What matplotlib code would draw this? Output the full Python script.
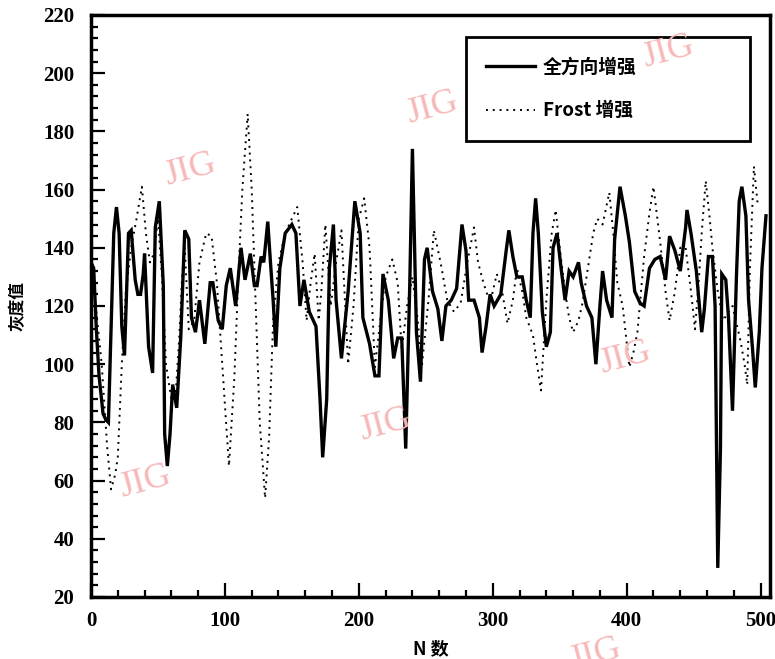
import numpy as np
import matplotlib
matplotlib.use("Agg")
import matplotlib.pyplot as plt
from matplotlib.ticker import MultipleLocator

## Values ##
omni_x = [0, 2, 4, 6, 9, 11, 13, 15, 17, 19, 21, 23, 25, 28, 30, 33, 35, 37, 39, 40,
          43, 46, 48, 51, 54, 55, 57, 59, 61, 64, 67, 70, 73, 75, 78, 81, 85, 89, 91, 95,
          98, 101, 104, 108, 112, 115, 119, 122, 124, 127, 129, 132, 134, 136, 138, 141, 145, 150, 153, 156,
          159, 163, 168, 171, 173, 176, 178, 181, 183, 187, 192, 197, 201, 203, 208, 212, 215, 218, 222, 226,
          229, 232, 235, 238, 240, 243, 246, 249, 251, 255, 259, 262, 265, 269, 273, 277, 280, 282, 286, 290,
          292, 295, 298, 301, 306, 310, 312, 315, 318, 322, 325, 328, 330, 332, 334, 337, 340, 343, 345, 348,
          351, 354, 357, 360, 364, 366, 370, 374, 377, 380, 382, 385, 389, 391, 395, 399, 402, 406, 410, 413,
          417, 421, 425, 429, 432, 436, 440, 444, 445, 448, 452, 456, 458, 461, 464, 466, 468, 470, 471, 474,
          476, 479, 482, 484, 486, 489, 491, 494, 496, 499, 501, 504]
omni_y = [135, 133, 112, 96, 83, 81, 80, 113, 145, 154, 145, 113, 103, 145, 146, 129, 124, 124, 131, 138,
          106, 97, 147, 156, 127, 76, 65, 76, 93, 85, 109, 146, 143, 116, 111, 122, 107, 128, 128, 115,
          112, 127, 133, 120, 140, 129, 138, 127, 127, 137, 135, 149, 135, 122, 106, 133, 145, 148, 145, 120,
          129, 118, 113, 88, 68, 88, 133, 148, 122, 102, 125, 156, 145, 116, 107, 96, 96, 131, 122, 102,
          109, 109, 71, 127, 174, 111, 94, 136, 140, 125, 119, 108, 120, 122, 126, 148, 139, 122, 122, 116,
          104, 113, 124, 120, 124, 139, 146, 137, 130, 130, 122, 116, 145, 157, 145, 118, 106, 111, 140, 145,
          133, 122, 132, 130, 135, 128, 120, 116, 100, 120, 132, 122, 116, 143, 161, 151, 142, 125, 121, 120,
          133, 136, 137, 129, 144, 139, 132, 147, 153, 145, 132, 111, 119, 137, 137, 120, 30, 71, 131, 129,
          116, 84, 131, 156, 161, 151, 122, 105, 92, 111, 133, 151]

frost_x = [0, 4, 8, 12, 15, 18, 20, 23, 26, 30, 34, 38, 41, 44, 47, 50, 53, 56, 60, 63,
           66, 68, 70, 73, 77, 81, 86, 90, 94, 98, 103, 107, 110, 113, 117, 120, 123, 126, 130, 133,
           136, 140, 145, 150, 154, 158, 161, 164, 167, 170, 172, 175, 179, 183, 187, 192, 196, 200, 204, 208,
           212, 216, 220, 225, 229, 232, 236, 240, 244, 247, 252, 256, 261, 266, 271, 276, 281, 286, 289, 293,
           298, 303, 307, 311, 315, 318, 322, 325, 330, 333, 336, 340, 344, 347, 350, 354, 357, 360, 364, 367,
           371, 375, 378, 382, 387, 390, 393, 397, 402, 405, 408, 413, 417, 420, 425, 429, 432, 436, 440, 444,
           448, 451, 454, 456, 459, 462, 464, 468, 472, 476, 479, 482, 485, 488, 490, 492, 495, 498]
frost_y = [132, 118, 100, 72, 57, 62, 68, 100, 125, 140, 150, 161, 145, 135, 138, 150, 130, 100, 88, 88,
           110, 130, 140, 112, 115, 135, 145, 144, 128, 100, 65, 95, 130, 160, 186, 160, 120, 80, 54, 75,
           115, 135, 145, 150, 154, 135, 115, 128, 138, 115, 125, 148, 120, 135, 146, 100, 120, 150, 157, 140,
           99, 115, 130, 136, 128, 105, 120, 130, 115, 99, 122, 146, 135, 122, 118, 121, 135, 147, 135, 128,
           121, 131, 125, 114, 122, 133, 125, 116, 110, 100, 91, 122, 145, 153, 140, 125, 116, 111, 115, 121,
           133, 145, 150, 148, 159, 145, 128, 120, 99, 104, 111, 137, 152, 161, 142, 125, 115, 125, 140, 140,
           125, 112, 130, 145, 163, 150, 140, 125, 115, 118, 120, 114, 108, 100, 93, 133, 168, 154]

labels = ["全方向增强", "Frost 增强"]
xlabel = "N 数"
ylabel = "灰度值"
watermark = "JIG"
# centres of the pink watermarks, in pixels from the top-left corner
wm_px = [(190, 170), (432, 108), (668, 52), (145, 482), (385, 425), (625, 358), (595, 655)]

W, H = 775, 659
cjk = ["Noto Sans CJK SC", "DejaVu Sans"]
fig = plt.figure(figsize=(W / 100, H / 100), dpi=100)
ax = fig.add_axes([91 / W, 62 / H, 679 / W, 582 / H])

ax.plot(omni_x, omni_y, color="black", lw=2.4, solid_joinstyle="miter", label=labels[0], zorder=3)
ax.plot(frost_x, frost_y, color="black", lw=1.4, linestyle=(0, (1, 2.5)), label=labels[1], zorder=2)

ax.set_xlim(0, 507)
ax.set_ylim(20, 220)
ax.xaxis.set_major_locator(MultipleLocator(100))
ax.xaxis.set_minor_locator(MultipleLocator(20))
ax.yaxis.set_major_locator(MultipleLocator(20))
ax.yaxis.set_minor_locator(MultipleLocator(4))
ax.tick_params(which="both", direction="in", width=1.6, labelsize=15)
ax.tick_params(axis="x", pad=10)
ax.tick_params(axis="y", pad=12)
ax.tick_params(which="major", length=10)
ax.tick_params(which="minor", length=5)
for lab in ax.get_xticklabels() + ax.get_yticklabels():
    lab.set_fontfamily("Liberation Serif")
    lab.set_fontweight("bold")
for sp in ax.spines.values():
    sp.set_linewidth(2.5)

ax.set_xlabel(xlabel, fontsize=13, fontweight="bold", family=cjk, labelpad=6)
ax.set_ylabel(ylabel, fontsize=12, fontweight="bold", family=cjk, labelpad=12)

leg = ax.legend(loc="upper left", bbox_to_anchor=(0.552, 0.759, 0.4185, 0.203), mode="expand",
                borderaxespad=0, fancybox=False, framealpha=1, edgecolor="black",
                handlelength=2.6, handletextpad=0.4, labelspacing=1.3, borderpad=1.1,
                prop={"family": cjk, "weight": "bold", "size": 13.5})
leg.get_frame().set_linewidth(2)

## pink JIG watermarks ##
for px, py in wm_px:
    fig.text(px / W, 1 - py / H, watermark, color="#f6b8b8", fontsize=26, family="Liberation Serif",
             rotation=15, ha="center", va="center", zorder=10)

plt.savefig("out.png", dpi=100)
plt.close("all")
